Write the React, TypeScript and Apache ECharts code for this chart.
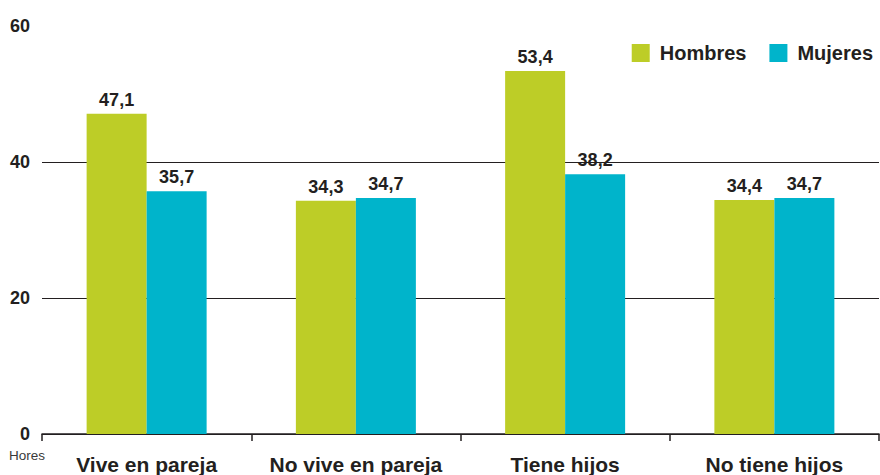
import React, { useEffect, useRef } from "react";
import * as echarts from "echarts";

const categories = ["Vive en pareja", "No vive en pareja", "Tiene hijos", "No tiene hijos"];
const hombres = [47.1, 34.3, 53.4, 34.4];
const mujeres = [35.7, 34.7, 38.2, 34.7];
const yTicks = [0, 20, 40, 60];

const FONT = "'Liberation Sans', Arial, Helvetica, sans-serif";
const INK = "#231f20";
const fmt = (v: number) => v.toFixed(1).replace(".", ",");

export default function App() {
  const ref = useRef<HTMLDivElement>(null);

  useEffect(() => {
    if (!ref.current) return;
    const chart = echarts.init(ref.current, undefined, { renderer: "svg" });
    const label = {
      show: true,
      position: "top" as const,
      distance: 5,
      fontFamily: FONT,
      fontWeight: "bold" as const,
      fontSize: 18,
      color: INK,
      formatter: (p: any) => fmt(p.value),
    };
    chart.setOption({
      animation: false,
      textStyle: { fontFamily: FONT },
      grid: { left: 42, right: 1, top: 26, bottom: 41, containLabel: false },
      legend: {
        right: 2,
        top: 38,
        itemWidth: 18,
        itemHeight: 18,
        itemGap: 23,
        icon: "rect",
        textStyle: {
          fontFamily: FONT,
          fontWeight: "bold",
          fontSize: 20,
          color: INK,
          padding: [0, 0, 0, 5],
        },
        data: ["Hombres", "Mujeres"],
      },
      xAxis: {
        type: "category",
        data: categories,
        axisLine: { lineStyle: { color: INK, width: 1.5 } },
        axisTick: { show: true, interval: 0, length: 7, lineStyle: { color: INK, width: 1.5 } },
        axisLabel: {
          interval: 0,
          hideOverlap: false,
          fontFamily: FONT,
          fontWeight: "bold",
          fontSize: 21,
          color: INK,
          margin: 20,
        },
      },
      yAxis: {
        type: "value",
        min: 0,
        max: 60,
        interval: 20,
        axisLine: { show: false },
        axisTick: { show: false },
        splitLine: {
          show: true,
          showMaxLine: false,
          lineStyle: { color: INK, width: 1 },
        },
        axisLabel: {
          fontFamily: FONT,
          fontWeight: "bold",
          fontSize: 18,
          color: INK,
          margin: 12,
          formatter: (v: number) => (yTicks.includes(v) ? String(v) : ""),
        },
      },
      graphic: [
        {
          type: "text",
          left: 9,
          top: 448,
          style: { text: "Hores", fontFamily: FONT, fontSize: 13.5, fill: "#3a3a3a" },
        },
      ],
      series: [
        {
          name: "Hombres",
          type: "bar",
          data: hombres,
          barWidth: 60,
          barGap: "0%",
          itemStyle: { color: "#bdcd27" },
          label,
        },
        {
          name: "Mujeres",
          type: "bar",
          data: mujeres,
          barWidth: 60,
          barGap: "0%",
          itemStyle: { color: "#00b4cb" },
          label,
        },
      ],
    });
    return () => chart.dispose();
  }, []);

  return <div ref={ref} style={{ width: 880, height: 475, position: "absolute", left: 0, top: 0 }} />;
}
